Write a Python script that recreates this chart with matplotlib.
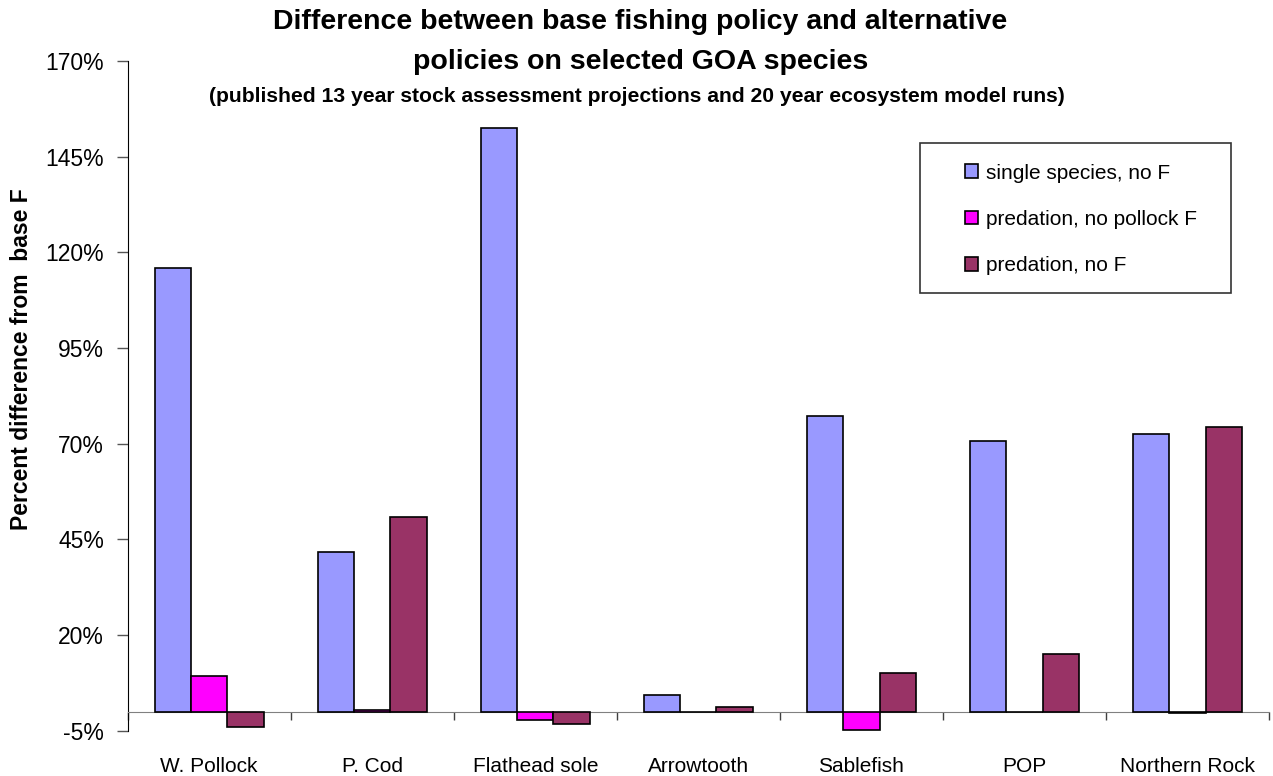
import numpy as np
import matplotlib
matplotlib.use("Agg")
import matplotlib.pyplot as plt
from matplotlib.patches import Rectangle

plt.rcParams['font.family'] = ['Liberation Sans', 'DejaVu Sans']

# species on the x axis
species = ['W. Pollock', 'P. Cod', 'Flathead sole', 'Arrowtooth',
           'Sablefish', 'POP', 'Northern Rock']

# percent difference from base F
single_no_f = [115.8, 41.8, 152.6, 4.3, 77.2, 70.8, 72.4]
pred_no_pollock_f = [9.3, 0.3, -2.3, 0.0, -4.8, 0.0, -0.4]
pred_no_f = [-4.0, 50.8, -3.2, 1.2, 10.0, 15.1, 74.3]

series_names = ['single species, no F', 'predation, no pollock F', 'predation, no F']
series_colors = ['#9999FF', '#FF00FF', '#993366']

yticks = [-5, 20, 45, 70, 95, 120, 145, 170]

fig = plt.figure(figsize=(12.73, 7.76), dpi=100)
ax = fig.add_axes([0.1003, 0.0584, 0.8966, 0.863])

x = np.arange(len(species))
w = 1 / 4.5
handles = []
for i, (vals, name, col) in enumerate(zip([single_no_f, pred_no_pollock_f, pred_no_f],
                                           series_names, series_colors)):
    b = ax.bar(x + (i - 1) * w, vals, width=w, color=col, edgecolor='black',
               linewidth=1.2, label=name, zorder=3)
    handles.append(b)

ax.set_xlim(-0.5, len(species) - 0.5)
ax.set_ylim(-5, 170)
ax.set_yticks(yticks)
ax.set_yticklabels([f'{t}%' for t in yticks])
ax.tick_params(axis='y', length=8, width=1, color='#555555', labelsize=16.5, pad=9)

# category axis crosses at zero, ticks between categories
ax.spines['top'].set_visible(False)
ax.spines['right'].set_visible(False)
ax.spines['bottom'].set_position(('data', 0))
ax.spines['bottom'].set_color('#808080')
ax.spines['left'].set_color('black')
ax.set_xticks(np.arange(len(species) + 1) - 0.5)
ax.set_xticklabels([])
ax.tick_params(axis='x', length=6, width=1, color='#404040', direction='out')

sec = ax.secondary_xaxis('bottom')
sec.set_xticks(x)
sec.set_xticklabels(species)
sec.tick_params(length=0, labelsize=15, pad=19)
sec.spines['bottom'].set_visible(False)

ax.set_ylabel('Percent difference from  base F', fontsize=16.5, fontweight='bold',
              va='center', ha='center')
ax.yaxis.set_label_coords(-0.0926, 0.555)

fig.text(0.503, 0.972, 'Difference between base fishing policy and alternative',
         ha='center', va='center', fontsize=20.5, fontweight='bold')
fig.text(0.503, 0.920, 'policies on selected GOA species',
         ha='center', va='center', fontsize=20.5, fontweight='bold')
fig.text(0.500, 0.875, '(published 13 year stock assessment projections and 20 year ecosystem model runs)',
         ha='center', va='center', fontsize=15.2, fontweight='bold')

# legend with a plain square frame
ax.add_patch(Rectangle((920 / 1273, 1 - 293 / 776), 311 / 1273, 150 / 776,
                       transform=fig.transFigure, facecolor='white',
                       edgecolor='#333333', linewidth=1.2, zorder=4, clip_on=False))
leg = ax.legend(handles=handles, loc='upper left', bbox_to_anchor=(0.758, 0.789),
                bbox_transform=fig.transFigure, frameon=False, fontsize=15,
                handlelength=0.65, handleheight=0.65, handletextpad=0.35,
                labelspacing=1.3, borderpad=0, borderaxespad=0)
leg.set_zorder(5)

fig.savefig('out.png', dpi=100)
